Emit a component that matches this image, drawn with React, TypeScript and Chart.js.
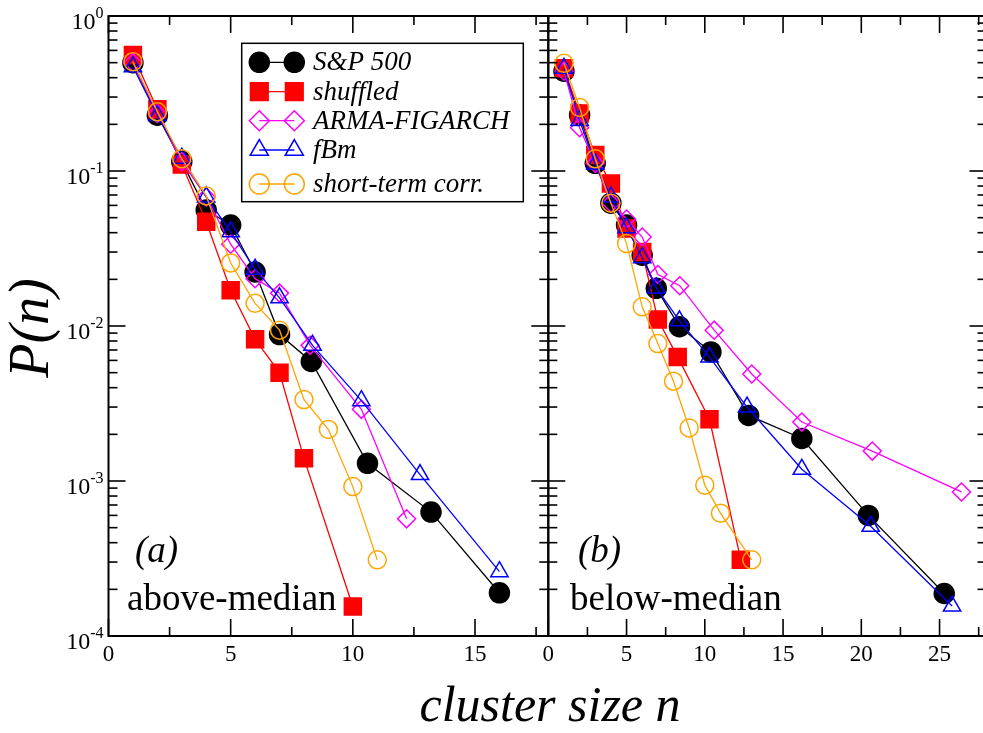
import React, { useEffect, useRef } from 'react';
import { Chart, registerables } from 'chart.js';

Chart.register(...registerables);

// ---------- data ----------
const SERIES_NAMES = ['S&P 500', 'shuffled', 'ARMA-FIGARCH', 'fBm', 'short-term corr.'];
const SERIES_COLORS = ['#000000', '#ff0000', '#ff00ff', '#0000ff', '#ffa500'];

// panel (a): above-median
const A_SP_X = [1, 2, 3, 4, 5, 6, 7, 8.3, 10.6, 13.2, 16.0];
const A_SP_Y = [0.5, 0.229, 0.115, 0.056, 0.0448, 0.0223, 0.0088, 0.0059, 0.0013, 0.00063, 0.00019];
const A_SH_X = [1, 2, 3, 4, 5, 6, 7, 8, 10];
const A_SH_Y = [0.56, 0.25, 0.11, 0.047, 0.017, 0.0082, 0.005, 0.0014, 0.000155];
const A_AF_X = [1, 2, 3, 4, 5, 6, 7, 8.25, 10.35, 12.2];
const A_AF_Y = [0.5, 0.235, 0.115, 0.068, 0.0337, 0.0202, 0.0163, 0.0075, 0.0029, 0.00057];
const A_FB_X = [1, 2, 3, 4, 5, 6, 7, 8.35, 10.35, 12.75, 16.0];
const A_FB_Y = [0.47, 0.228, 0.121, 0.068, 0.0405, 0.0232, 0.0152, 0.0075, 0.0033, 0.0011, 0.00026];
const A_ST_X = [1, 2, 3, 4, 5, 6, 7, 8, 9, 10, 11];
const A_ST_Y = [0.507, 0.241, 0.12, 0.069, 0.0255, 0.014, 0.0094, 0.00335, 0.00215, 0.00092, 0.00031];

// panel (b): below-median
const B_SP_X = [1, 2, 3, 4, 5, 6, 6.9, 8.38, 10.39, 12.8, 16.2, 20.45, 25.3];
const B_SP_Y = [0.44, 0.23, 0.112, 0.062, 0.0448, 0.0286, 0.0175, 0.0099, 0.0068, 0.00265, 0.00188, 0.0006, 0.000188];
const B_SH_X = [1, 2, 3, 4, 5, 6, 7, 8.27, 10.3, 12.3];
const B_SH_Y = [0.46, 0.235, 0.127, 0.083, 0.0425, 0.03, 0.011, 0.0063, 0.0025, 0.00031];
const B_AF_X = [1, 2, 3, 4, 5, 6, 7, 8.4, 10.6, 13, 16.2, 20.7, 26.4];
const B_AF_Y = [0.44, 0.19, 0.112, 0.062, 0.049, 0.0375, 0.0215, 0.0182, 0.0094, 0.0049, 0.0024, 0.00156, 0.00085];
const B_FB_X = [1, 2, 3, 4, 5, 6, 6.9, 8.38, 10.3, 12.7, 16.2, 20.6, 25.8];
const B_FB_Y = [0.46, 0.212, 0.111, 0.068, 0.043, 0.0276, 0.0176, 0.0108, 0.0063, 0.003, 0.00119, 0.00051, 0.000156];
const B_ST_X = [1, 2, 3, 4, 5, 6, 7, 8, 9, 10, 11, 13];
const B_ST_Y = [0.495, 0.257, 0.12, 0.062, 0.034, 0.0133, 0.0077, 0.0044, 0.0022, 0.00094, 0.00062, 0.00031];

const X_TICKS_A = [0, 5, 10, 15];
const X_TICKS_B = [0, 5, 10, 15, 20, 25];
const Y_TICK_EXPONENTS = [0, -1, -2, -3, -4];
const X_MAX_A = 18;
const X_MAX_B = 28;

const PANEL_A_LABEL = '(a)';
const PANEL_B_LABEL = '(b)';
const PANEL_A_TEXT = 'above-median';
const PANEL_B_TEXT = 'below-median';
const X_TITLE = 'cluster size n';
const Y_TITLE = 'P(n)';

// ---------- styling ----------
const SERIF = '"Liberation Serif", "Times New Roman", Times, serif';
const STYLES = [
  { pointStyle: 'circle', radius: 10, fill: '#000000', order: 5 },
  { pointStyle: 'rect', radius: 12, fill: '#ff0000', order: 4 },
  { pointStyle: 'rectRot', radius: 9, fill: 'rgba(0,0,0,0)', order: 3 },
  { pointStyle: 'triangle', radius: 10, fill: 'rgba(0,0,0,0)', order: 2 },
  { pointStyle: 'circle', radius: 9, fill: 'rgba(0,0,0,0)', order: 1 },
];

function buildDatasets(xsList: number[][], ysList: number[][]) {
  return xsList.map((xs, i) => ({
    label: SERIES_NAMES[i],
    data: xs.map((x, j) => ({ x, y: ysList[i][j] })),
    borderColor: SERIES_COLORS[i],
    backgroundColor: STYLES[i].fill,
    pointBackgroundColor: STYLES[i].fill,
    pointBorderColor: SERIES_COLORS[i],
    pointStyle: STYLES[i].pointStyle,
    pointRadius: STYLES[i].radius,
    pointHoverRadius: STYLES[i].radius,
    pointBorderWidth: 1.5,
    borderWidth: 1.3,
    showLine: true,
    fill: false,
    tension: 0,
    order: STYLES[i].order,
    clip: false,
  }));
}

function line(ctx: CanvasRenderingContext2D, x1: number, y1: number, x2: number, y2: number) {
  ctx.beginPath();
  ctx.moveTo(x1, y1);
  ctx.lineTo(x2, y2);
  ctx.stroke();
}

function drawMarker(ctx: CanvasRenderingContext2D, style: string, x: number, y: number, r: number, color: string, filled: boolean) {
  ctx.beginPath();
  if (style === 'circle') {
    ctx.arc(x, y, r, 0, Math.PI * 2);
  } else if (style === 'rect') {
    const s = Math.SQRT1_2 * r;
    ctx.rect(x - s, y - s, 2 * s, 2 * s);
  } else if (style === 'rectRot') {
    ctx.moveTo(x, y - r);
    ctx.lineTo(x + r, y);
    ctx.lineTo(x, y + r);
    ctx.lineTo(x - r, y);
    ctx.closePath();
  } else if (style === 'triangle') {
    ctx.moveTo(x, y - r);
    ctx.lineTo(x + r * Math.sin((2 * Math.PI) / 3), y + r * 0.5);
    ctx.lineTo(x - r * Math.sin((2 * Math.PI) / 3), y + r * 0.5);
    ctx.closePath();
  }
  if (filled) {
    ctx.fillStyle = color;
    ctx.fill();
  }
  ctx.strokeStyle = color;
  ctx.lineWidth = 1.5;
  ctx.stroke();
}

type PanelCfg = {
  id: string;
  xTicks: number[];
  xMax: number;
  yLabels: boolean;
  label: string;
  labelX: number;
  text: string;
  textX: number;
  legend: boolean;
  titles: boolean;
};

function makePlugin(cfg: PanelCfg) {
  return {
    id: 'panelDecor' + cfg.id,
    afterDraw(chart: any) {
      const ctx: CanvasRenderingContext2D = chart.ctx;
      const ca = chart.chartArea;
      const xs = chart.scales.x;
      const ys = chart.scales.y;
      ctx.save();
      ctx.strokeStyle = '#000';
      ctx.lineWidth = 2;
      ctx.strokeRect(ca.left, ca.top, ca.right - ca.left, ca.bottom - ca.top);

      const MAJ = 17;
      const MIN = 9;
      ctx.lineWidth = 1.6;
      for (const v of cfg.xTicks) {
        const px = xs.getPixelForValue(v);
        line(ctx, px, ca.bottom, px, ca.bottom - MAJ);
        line(ctx, px, ca.top, px, ca.top + MAJ);
      }
      const step = cfg.xTicks[1] - cfg.xTicks[0];
      for (let v = step / 2; v < cfg.xMax; v += step) {
        const px = xs.getPixelForValue(v);
        line(ctx, px, ca.bottom, px, ca.bottom - MIN);
        line(ctx, px, ca.top, px, ca.top + MIN);
      }
      for (const e of Y_TICK_EXPONENTS) {
        const py = ys.getPixelForValue(Math.pow(10, e));
        line(ctx, ca.left, py, ca.left + MAJ, py);
        line(ctx, ca.right, py, ca.right - MAJ, py);
        if (e > Y_TICK_EXPONENTS[Y_TICK_EXPONENTS.length - 1]) {
          for (let k = 2; k <= 9; k++) {
            const pm = ys.getPixelForValue(k * Math.pow(10, e - 1));
            line(ctx, ca.left, pm, ca.left + MIN, pm);
            line(ctx, ca.right, pm, ca.right - MIN, pm);
          }
        }
      }

      ctx.fillStyle = '#000';
      ctx.font = `23px ${SERIF}`;
      ctx.textAlign = 'center';
      ctx.textBaseline = 'alphabetic';
      for (const v of cfg.xTicks) {
        ctx.fillText(String(v), xs.getPixelForValue(v), ca.bottom + 25);
      }
      if (cfg.yLabels) {
        for (const e of Y_TICK_EXPONENTS) {
          const py = ys.getPixelForValue(Math.pow(10, e));
          const exp = String(e);
          ctx.font = `16px ${SERIF}`;
          const ew = ctx.measureText(exp).width;
          const right = ca.left - 5;
          ctx.textAlign = 'left';
          ctx.fillText(exp, right - ew, py + 2);
          ctx.font = `24px ${SERIF}`;
          ctx.textAlign = 'right';
          ctx.fillText('10', right - ew, py + 13);
        }
      }
      ctx.textAlign = 'left';
      ctx.font = `italic 37px ${SERIF}`;
      ctx.fillText(cfg.label, cfg.labelX, 562);
      ctx.font = `37px ${SERIF}`;
      ctx.fillText(cfg.text, cfg.textX, 610);

      if (cfg.legend) {
        const bx = 241.7, by = 43.3, bw = 281.6, bh = 158.4;
        ctx.fillStyle = '#fff';
        ctx.fillRect(bx, by, bw, bh);
        ctx.strokeStyle = '#000';
        ctx.lineWidth = 1.5;
        ctx.strokeRect(bx, by, bw, bh);
        const rows = [62.3, 91.7, 120.7, 150, 184];
        const legR = [10, 12.5, 10, 10.5, 10];
        SERIES_NAMES.forEach((name, i) => {
          const y = rows[i];
          ctx.strokeStyle = SERIES_COLORS[i];
          ctx.lineWidth = 1.3;
          line(ctx, 259.3, y, 294.3, y);
          const filled = i < 2;
          drawMarker(ctx, STYLES[i].pointStyle, 259.3, y, legR[i], SERIES_COLORS[i], filled);
          drawMarker(ctx, STYLES[i].pointStyle, 294.3, y, legR[i], SERIES_COLORS[i], filled);
          ctx.fillStyle = '#000';
          ctx.font = `italic 27px ${SERIF}`;
          ctx.textAlign = 'left';
          ctx.fillText(name, 313, y + 8);
        });
      }

      if (cfg.titles) {
        ctx.fillStyle = '#000';
        ctx.font = `italic 50px ${SERIF}`;
        ctx.textAlign = 'center';
        ctx.fillText(X_TITLE, 550, 721);
        ctx.save();
        ctx.translate(48, 328);
        ctx.rotate(-Math.PI / 2);
        ctx.font = `italic 56px ${SERIF}`;
        ctx.textAlign = 'center';
        ctx.fillText(Y_TITLE, 0, 0);
        ctx.restore();
      }
      ctx.restore();
    },
  };
}

function makeChart(canvas: HTMLCanvasElement, datasets: any[], xMax: number, padding: any, plugin: any) {
  return new Chart(canvas, {
    type: 'scatter',
    data: { datasets },
    options: {
      animation: false,
      responsive: false,
      devicePixelRatio: 1,
      layout: { padding },
      scales: {
        x: { type: 'linear', min: 0, max: xMax, display: false },
        y: { type: 'logarithmic', min: 1e-4, max: 1, display: false },
      },
      plugins: { legend: { display: false }, tooltip: { enabled: false } },
      events: [],
    } as any,
    plugins: [plugin],
  });
}

export default function App() {
  const leftRef = useRef<HTMLCanvasElement>(null);
  const rightRef = useRef<HTMLCanvasElement>(null);

  useEffect(() => {
    const left = makeChart(
      leftRef.current!,
      buildDatasets([A_SP_X, A_SH_X, A_AF_X, A_FB_X, A_ST_X], [A_SP_Y, A_SH_Y, A_AF_Y, A_FB_Y, A_ST_Y]),
      X_MAX_A,
      { left: 108.5, right: 983 - 548.3, top: 16, bottom: 733 - 636 },
      makePlugin({
        id: 'a', xTicks: X_TICKS_A, xMax: X_MAX_A, yLabels: true,
        label: PANEL_A_LABEL, labelX: 135, text: PANEL_A_TEXT, textX: 127,
        legend: true, titles: true,
      })
    );
    const right = makeChart(
      rightRef.current!,
      buildDatasets([B_SP_X, B_SH_X, B_AF_X, B_FB_X, B_ST_X], [B_SP_Y, B_SH_Y, B_AF_Y, B_FB_Y, B_ST_Y]),
      X_MAX_B,
      { left: 548.3, right: 1000 - 988.5, top: 16, bottom: 733 - 636 },
      makePlugin({
        id: 'b', xTicks: X_TICKS_B, xMax: X_MAX_B, yLabels: false,
        label: PANEL_B_LABEL, labelX: 578, text: PANEL_B_TEXT, textX: 570,
        legend: false, titles: false,
      })
    );
    return () => {
      left.destroy();
      right.destroy();
    };
  }, []);

  return (
    <div style={{ position: 'fixed', left: 0, top: 0, width: 983, height: 733, overflow: 'hidden', background: '#fff' }}>
      <canvas ref={leftRef} width={983} height={733} style={{ position: 'absolute', left: 0, top: 0 }} />
      <canvas ref={rightRef} width={1000} height={733} style={{ position: 'absolute', left: 0, top: 0 }} />
    </div>
  );
}
